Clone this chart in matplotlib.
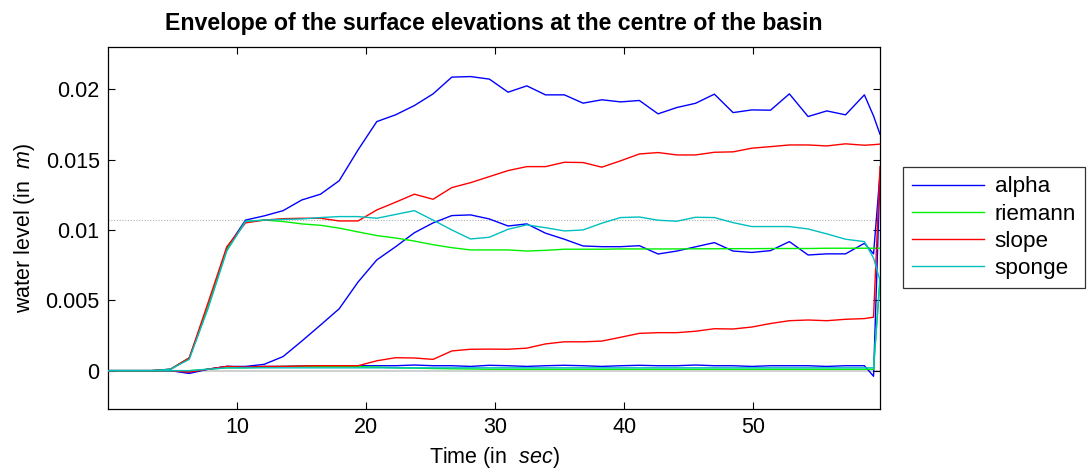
import numpy as np
import matplotlib
matplotlib.use("Agg")
import matplotlib.pyplot as plt

plt.rcParams['font.family'] = ['Liberation Sans', 'DejaVu Sans']
plt.rcParams['mathtext.fontset'] = 'custom'
plt.rcParams['mathtext.it'] = 'Liberation Sans:italic'
plt.rcParams['mathtext.rm'] = 'Liberation Sans'

# time samples (s)
t = [0.00, 1.93, 3.39, 4.84, 6.29, 7.74, 9.20, 10.65, 12.10, 13.56, 15.01, 16.46,
     17.91, 19.37, 20.82, 22.27, 23.73, 25.18, 26.63, 28.08, 29.54, 30.99, 32.44,
     33.89, 35.35, 36.80, 38.25, 39.70, 41.16, 42.61, 44.06, 45.51, 46.97, 48.42,
     49.87, 51.32, 52.78, 54.23, 55.68, 57.13, 58.59, 59.30, 59.80]

alpha_max = [0, 0, 0, 0.0001, 0.0009, 0.0045, 0.0087, 0.0107, 0.0110, 0.01137, 0.01213, 0.01254,
             0.0135, 0.01569, 0.0177, 0.01818, 0.01884, 0.01967, 0.02086, 0.0209, 0.02072, 0.01979, 0.02024,
             0.0196, 0.0196, 0.01901, 0.01925, 0.0191, 0.0192, 0.01825, 0.0187, 0.0190, 0.01965, 0.01834,
             0.01853, 0.01851, 0.01967, 0.01806, 0.01846, 0.01818, 0.0196, 0.0181, 0.0168]
alpha_mid = [0, 0, 0, 0, -0.0001, 0.0001, 0.0003, 0.0003, 0.00045, 0.0010, 0.0021, 0.00324,
             0.0044, 0.0063, 0.00787, 0.0088, 0.0098, 0.0105, 0.01102, 0.01107, 0.01078, 0.01028, 0.01043,
             0.00977, 0.00934, 0.00886, 0.00881, 0.00881, 0.00888, 0.00829, 0.0085, 0.0088, 0.0091, 0.0085,
             0.0084, 0.00853, 0.00917, 0.00822, 0.0083, 0.0083, 0.00905, 0.0083, 0.0140]
alpha_min = [0, 0, 0, 0, -0.0002, 0.0001, 0.0003, 0.00025, 0.0003, 0.0003, 0.00033, 0.00035,
             0.00035, 0.00035, 0.00035, 0.00035, 0.0004, 0.00035, 0.00035, 0.0003, 0.00038, 0.00035, 0.0003,
             0.00035, 0.00038, 0.00035, 0.0003, 0.00035, 0.00038, 0.00035, 0.00035, 0.0004, 0.00035, 0.00035,
             0.0003, 0.00035, 0.00035, 0.00035, 0.0003, 0.00035, 0.00035, -0.0004, 0.0140]

riemann_max = [0, 0, 0, 0.0001, 0.0009, 0.0045, 0.0086, 0.0106, 0.0107, 0.0106, 0.01043, 0.01033,
               0.01013, 0.00986, 0.0096, 0.00943, 0.00921, 0.00895, 0.00874, 0.00858, 0.00858, 0.00858, 0.0085,
               0.00855, 0.00863, 0.00863, 0.00863, 0.00865, 0.00865, 0.00865, 0.00865, 0.00866, 0.00866, 0.00867,
               0.00867, 0.00868, 0.00868, 0.00868, 0.0087, 0.0087, 0.0087, 0.0087, 0.0087]
riemann_min = [0, 0, 0, 0, 0, 0.0001, 0.0002, 0.0002, 0.00025, 0.0003, 0.0003, 0.0003,
               0.0003, 0.00028, 0.00025, 0.0002, 0.00018, 0.00015, 0.00013, 0.00012, 0.0001, 0.0001, 0.0001,
               0.0001, 0.0001, 0.0001, 0.0001, 0.0001, 0.0001, 0.0001, 0.0001, 0.0001, 0.0001, 0.0001,
               0.0001, 0.0001, 0.0001, 0.0001, 0.0001, 0.0001, 0.0001, 0.0001, 0.0066]

slope_max = [0, 0, 0, 0.0001, 0.0009, 0.0048, 0.0088, 0.0105, 0.0107, 0.0108, 0.01083, 0.01083,
             0.01064, 0.01064, 0.01142, 0.01197, 0.01254, 0.01218, 0.01301, 0.01336, 0.01379, 0.01422, 0.0145,
             0.0145, 0.01481, 0.01479, 0.01446, 0.01491, 0.0154, 0.0155, 0.01533, 0.01533, 0.01552, 0.01555,
             0.01581, 0.01592, 0.01604, 0.01604, 0.01597, 0.01612, 0.01602, 0.01606, 0.0161]
slope_min = [0, 0, 0, 0, -0.0001, 0.0001, 0.0003, 0.00025, 0.0003, 0.0003, 0.00033, 0.00035,
             0.00035, 0.00035, 0.0007, 0.00092, 0.0009, 0.0008, 0.0014, 0.00152, 0.00153, 0.00152, 0.0016,
             0.0019, 0.00205, 0.00205, 0.0021, 0.00237, 0.00265, 0.0027, 0.0027, 0.0028, 0.00298, 0.00296,
             0.0031, 0.00335, 0.00355, 0.0036, 0.00355, 0.00365, 0.0037, 0.0038, 0.0145]

sponge_max = [0, 0, 0, 0.0001, 0.0008, 0.0044, 0.0085, 0.0106, 0.0107, 0.01075, 0.01078, 0.01088,
              0.01095, 0.01095, 0.01083, 0.0111, 0.01137, 0.0107, 0.0100, 0.00936, 0.00948, 0.01005, 0.01036,
              0.01016, 0.00993, 0.0100, 0.01048, 0.01088, 0.01092, 0.01069, 0.01062, 0.0109, 0.01088, 0.01052,
              0.01024, 0.01024, 0.01024, 0.01007, 0.00972, 0.00934, 0.00917, 0.0080, 0.0064]
sponge_min = [0, 0, 0, 0, 0, 0.0001, 0.0002, 0.0002, 0.0002, 0.0002, 0.0002, 0.0002,
              0.0002, 0.0002, 0.0002, 0.0002, 0.0002, 0.0002, 0.0002, 0.0002, 0.0002, 0.0002, 0.0002,
              0.0002, 0.0002, 0.0002, 0.0002, 0.0002, 0.0002, 0.0002, 0.0002, 0.0002, 0.0002, 0.0002,
              0.0002, 0.0002, 0.0002, 0.0002, 0.0002, 0.0002, 0.0002, 0.0002, 0.0065]

ref_level = 0.0107
labels = ['alpha', 'riemann', 'slope', 'sponge']
colors = ['#0000ff', '#00f000', '#ff0000', '#00bfbf']
xticks = [10, 20, 30, 40, 50]
yticks = [0, 0.005, 0.01, 0.015, 0.02]
yticklabels = ['0', '0.005', '0.01', '0.015', '0.02']

fig = plt.figure(figsize=(10.91, 4.74), dpi=100)
ax = fig.add_axes([0.099, 0.137, 0.7076, 0.7638])

ax.axhline(0, color='#c8c8c8', lw=1.2, zorder=1)
ax.axhline(ref_level, color='#b0b0b0', lw=0.8, ls=(0, (1, 1.5)), zorder=1)

groups = [(alpha_max, alpha_mid, alpha_min), (riemann_max, riemann_min),
          (slope_max, slope_min), (sponge_max, sponge_min)]
handles = []
for grp, lab, col in zip(groups, labels, colors):
    for i, s in enumerate(grp):
        h, = ax.plot(t, s, color=col, lw=1.0, zorder=3)
        if i == 0:
            h.set_label(lab)
            handles.append(h)

ax.set_xlim(0, 59.8)
ax.set_ylim(-0.00273, 0.023)
ax.set_xticks(xticks)
ax.set_yticks(yticks)
ax.set_yticklabels(yticklabels)
ax.tick_params(direction='in', length=5, width=0.8, labelsize=15.5,
               top=True, right=True, pad=6)
for sp in ax.spines.values():
    sp.set_linewidth(0.9)

ax.set_title('Envelope of the surface elevations at the centre of the basin',
             fontsize=16.7, fontweight='bold', pad=12)
ax.set_xlabel('Time (in  $\\mathit{sec}$)', fontsize=15.5, labelpad=5)
ax.set_ylabel('water level (in  $\\mathit{m}$)', fontsize=15.5, labelpad=6)

leg = fig.legend(handles=handles, loc='upper left', bbox_to_anchor=(0.8277, 0.6477),
                 bbox_transform=fig.transFigure, fontsize=16.2, frameon=True,
                 fancybox=False, edgecolor='black', handlelength=3.2,
                 handletextpad=0.45, borderpad=0.42, labelspacing=0.27, borderaxespad=0)
leg.get_frame().set_linewidth(0.9)

fig.savefig('out.png', dpi=100)
